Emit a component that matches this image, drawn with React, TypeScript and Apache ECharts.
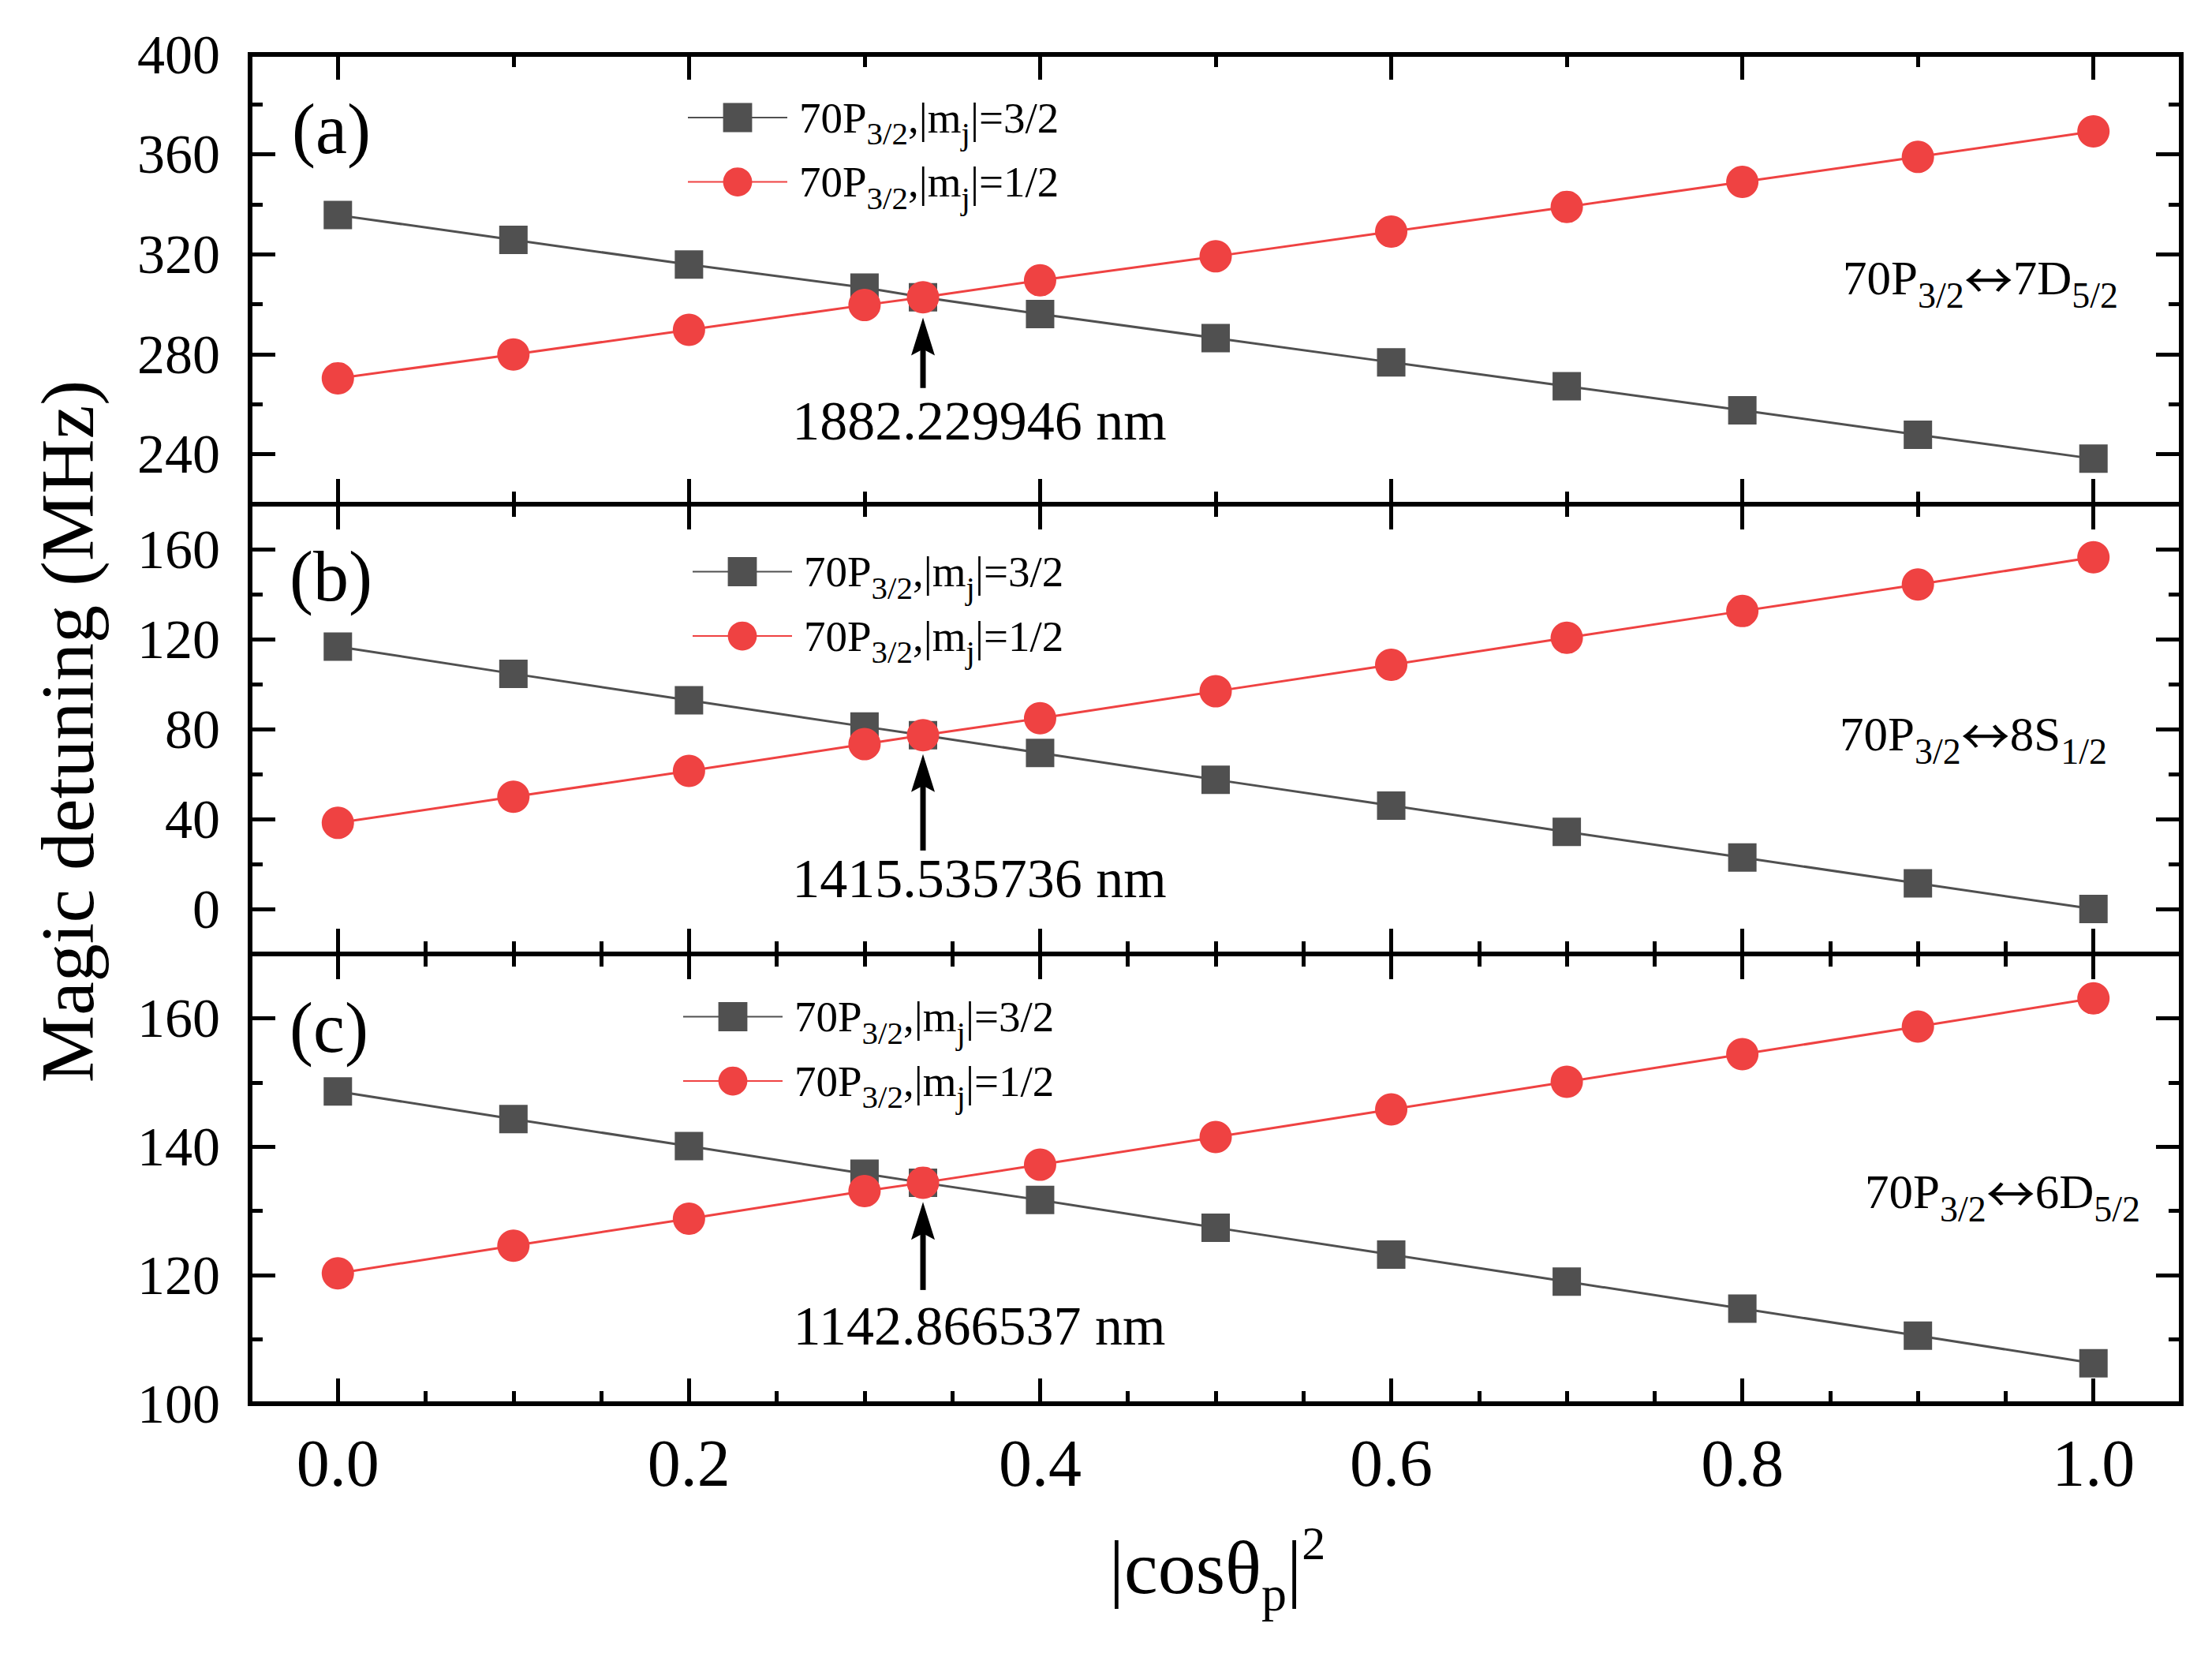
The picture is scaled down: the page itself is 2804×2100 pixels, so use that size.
import { useEffect, useRef } from "react";
import * as echarts from "echarts";

const FONT = "'Times New Roman', 'Liberation Serif', serif";

// |cos θp|^2 samples shared by the three panels (0.3333 is the magic crossing)
const cosSq = [0, 0.1, 0.2, 0.3, 0.3333, 0.4, 0.5, 0.6, 0.7, 0.8, 0.9, 1.0];

// (a) 70P3/2 <-> 7D5/2
const aMj32 = [335.7, 325.8, 315.9, 306.7, 302.8, 296.1, 286.5, 276.8, 267.2, 257.6, 247.8, 238.2];
const aMj12 = [270.4, 279.9, 289.8, 299.7, 302.8, 309.6, 319.2, 329.1, 339.0, 349.0, 359.0, 369.2];
// (b) 70P3/2 <-> 8S1/2
const bMj32 = [116.7, 104.6, 92.8, 81.1, 77.3, 69.4, 57.5, 46.0, 34.3, 22.9, 11.4, 0.0];
const bMj12 = [38.3, 49.9, 61.4, 73.3, 77.3, 84.8, 96.8, 108.6, 120.6, 132.5, 144.3, 156.4];
// (c) 70P3/2 <-> 6D5/2
const cMj32 = [148.6, 144.3, 140.1, 135.8, 134.4, 131.7, 127.4, 123.2, 119.0, 114.8, 110.6, 106.3];
const cMj12 = [120.3, 124.6, 128.8, 133.1, 134.4, 137.2, 141.5, 145.8, 150.1, 154.4, 158.7, 163.1];

// tick values
const xMajor = [0, 0.2, 0.4, 0.6, 0.8, 1.0];
const xMinorCoarse = [0.1, 0.3, 0.5, 0.7, 0.9];
const xMinorFine = [0.05, 0.1, 0.15, 0.25, 0.3, 0.35, 0.45, 0.5, 0.55, 0.65, 0.7, 0.75, 0.85, 0.9, 0.95];
const yMajorA = [240, 280, 320, 360, 400];
const yMinorA = [260, 300, 340, 380];
const yMajorB = [0, 40, 80, 120, 160];
const yMinorB = [20, 60, 100, 140];
const yMajorC = [100, 120, 140, 160];
const yMinorC = [110, 130, 150];

// texts
const mj32Name = "70P3/2,|mj|=3/2";
const mj12Name = "70P3/2,|mj|=1/2";
const legendRich: Record<string, string> = {
  [mj32Name]: "70P{sub|3/2},|m{sub|j}|=3/2",
  [mj12Name]: "70P{sub|3/2},|m{sub|j}|=1/2",
};
const transitions = ["70P{sub|3/2}{arr|↔}7D{sub|5/2}", "70P{sub|3/2}{arr|↔}8S{sub|1/2}", "70P{sub|3/2}{arr|↔}6D{sub|5/2}"];
const wavelengths = ["1882.229946 nm", "1415.535736 nm", "1142.866537 nm"];
const panelTags = ["(a)", "(b)", "(c)"];

// annotation arrows (data units) and wavelength label anchors
const arrowX = 0.3333;
const arrowTip = [294.7, 68.9, 131.4];
const arrowTail = [266.5, 26.0, 117.7];
const waveX = 0.3654;
const waveY = [253.2, 13.4, 112.1];

const SQ = "#505050";
const RED = "#ef4242";
const GRID_LEFT = 317;
const GRID_W = 2448;
const GRID_H = 570;

const panels = [
  { top: 69, yMin: 220, yMax: 400, yMajor: yMajorA, yMinor: yMinorA, mj32: aMj32, mj12: aMj12,
    xTopMinor: xMinorCoarse, xBottomMinor: xMinorCoarse, legendLeft: 871, legendTop: 108.5,
    tagX: 370, tagY: 163, transX: 2685, transY: 352 },
  { top: 639, yMin: -20, yMax: 180, yMajor: yMajorB, yMinor: yMinorB, mj32: bMj32, mj12: bMj12,
    xTopMinor: xMinorCoarse, xBottomMinor: xMinorFine, legendLeft: 877, legendTop: 684,
    tagX: 367, tagY: 730, transX: 2671, transY: 930 },
  { top: 1209, yMin: 100, yMax: 170, yMajor: yMajorC, yMinor: yMinorC, mj32: cMj32, mj12: cMj12,
    xTopMinor: xMinorFine, xBottomMinor: xMinorFine, legendLeft: 865, legendTop: 1248,
    tagX: 367, tagY: 1302, transX: 2713, transY: 1510 },
];

const axisBase = (gi: number, position: string, ticks: number[], len: number, line: boolean) => ({
  type: "value",
  gridIndex: gi,
  position,
  splitLine: { show: false },
  axisLine: { show: line, onZero: false, lineStyle: { color: "#000", width: 6, cap: "square" } },
  axisTick: { show: true, inside: true, length: len, customValues: ticks, lineStyle: { color: "#000", width: 5 } },
});

const App = () => {
  const ref = useRef<HTMLDivElement | null>(null);

  useEffect(() => {
    if (!ref.current) return;
    const chart = echarts.init(ref.current, null, { renderer: "svg" });

    const xAxes: any[] = [];
    const yAxes: any[] = [];
    panels.forEach((p, i) => {
      const xr = { min: -0.05, max: 1.05 };
      xAxes.push({
        ...axisBase(i, "bottom", xMajor, 32, true), ...xr,
        axisLabel: {
          show: i === 2, customValues: xMajor, margin: 33, fontSize: 84, fontFamily: FONT, color: "#000",
          formatter: (v: number) => v.toFixed(1),
        },
      });
      xAxes.push({ ...axisBase(i, "bottom", p.xBottomMinor, 16, false), ...xr, axisLabel: { show: false } });
      xAxes.push({ ...axisBase(i, "top", xMajor, 32, true), ...xr, axisLabel: { show: false } });
      xAxes.push({ ...axisBase(i, "top", p.xTopMinor, 16, false), ...xr, axisLabel: { show: false } });

      const yr = { min: p.yMin, max: p.yMax };
      yAxes.push({
        ...axisBase(i, "left", p.yMajor, 32, true), ...yr,
        axisLabel: { show: true, customValues: p.yMajor, margin: 38, fontSize: 70, fontFamily: FONT, color: "#000" },
      });
      yAxes.push({ ...axisBase(i, "left", p.yMinor, 16, false), ...yr, axisLabel: { show: false } });
      yAxes.push({ ...axisBase(i, "right", p.yMajor, 32, true), ...yr, axisLabel: { show: false } });
      yAxes.push({ ...axisBase(i, "right", p.yMinor, 16, false), ...yr, axisLabel: { show: false } });
    });

    const series: any[] = [];
    panels.forEach((p, i) => {
      series.push({
        type: "line",
        name: mj32Name,
        xAxisIndex: i * 4,
        yAxisIndex: i * 4,
        data: cosSq.map((x, k) => [x, p.mj32[k]]),
        symbol: "rect",
        symbolSize: 36,
        itemStyle: { color: SQ },
        lineStyle: { color: SQ, width: 3 },
        z: 3,
      });
      series.push({
        type: "line",
        name: mj12Name,
        xAxisIndex: i * 4,
        yAxisIndex: i * 4,
        data: cosSq.map((x, k) => [x, p.mj12[k]]),
        symbol: "circle",
        symbolSize: 41,
        itemStyle: { color: RED },
        lineStyle: { color: RED, width: 3 },
        z: 4,
        markPoint: {
          silent: true,
          data: [
            {
              coord: [waveX, waveY[i]],
              symbol: "rect",
              symbolSize: 1,
              itemStyle: { color: "rgba(0,0,0,0)" },
              label: {
                show: true, position: "inside", formatter: wavelengths[i],
                fontSize: 70, fontFamily: FONT, color: "#000",
              },
            },
          ],
        },
      });
    });

    const legends = panels.map((p) => ({
      orient: "vertical",
      left: p.legendLeft,
      top: p.legendTop,
      padding: 0,
      itemWidth: 126,
      itemHeight: 46,
      itemGap: 0.6,
      selectedMode: false,
      data: [mj32Name, mj12Name],
      formatter: (name: string) => legendRich[name],
      textStyle: {
        fontSize: 55, lineHeight: 56, fontFamily: FONT, color: "#000", padding: [0, 0, 0, 10],
        rich: { sub: { fontSize: 41, lineHeight: 20, padding: [40, 0, 0, 0], fontFamily: FONT, color: "#000" } },
      },
    }));

    const graphics: any[] = [
      {
        type: "text", x: 85, y: 927, rotation: Math.PI / 2,
        style: { text: "Magic detuning (MHz)", fontSize: 96, fontFamily: FONT, fill: "#000",
          textAlign: "center", textVerticalAlign: "middle" },
      },
      {
        type: "text", x: 1543, y: 1986,
        style: {
          text: "|cosθ{sub|p}|{sup|2}", fontSize: 96, fontFamily: FONT, fill: "#000",
          textAlign: "center", textVerticalAlign: "middle",
          rich: {
            sub: { fontSize: 64, fontFamily: FONT, fill: "#000", lineHeight: 20, padding: [67, 0, 0, 0] },
            sup: { fontSize: 60, fontFamily: FONT, fill: "#000", lineHeight: 20, padding: [0, 0, 60, 0] },
          },
        },
      },
    ];
    panels.forEach((p, i) => {
      graphics.push({
        type: "text", x: p.tagX, y: p.tagY,
        style: { text: panelTags[i], fontSize: 90, fontFamily: FONT, fill: "#000",
          textAlign: "left", textVerticalAlign: "middle" },
      });
      graphics.push({
        type: "text", x: p.transX, y: p.transY,
        style: {
          text: transitions[i], fontSize: 61, fontFamily: FONT, fill: "#000",
          textAlign: "right", textVerticalAlign: "middle",
          rich: {
            sub: { fontSize: 46, fontFamily: FONT, fill: "#000", lineHeight: 20, padding: [44, 0, 0, 0] },
            arr: { fontSize: 62, fontFamily: "'Noto Sans CJK JP', 'DejaVu Sans'", fill: "#000", lineHeight: 20 },
          },
        },
      });
    });

    chart.setOption({
      animation: false,
      backgroundColor: "#fff",
      textStyle: { fontFamily: FONT },
      grid: panels.map((p) => ({ left: GRID_LEFT, top: p.top, width: GRID_W, height: GRID_H, outerBoundsMode: "none" })),
      xAxis: xAxes,
      yAxis: yAxes,
      legend: legends,
      series,
    });

    // arrows pointing at the crossing, placed through the panel's own axes
    panels.forEach((_, i) => {
      const finder = { xAxisIndex: i * 4, yAxisIndex: i * 4 };
      const tip = chart.convertToPixel(finder, [arrowX, arrowTip[i]]) as number[];
      const tail = chart.convertToPixel(finder, [arrowX, arrowTail[i]]) as number[];
      const [tx, ty] = tip;
      graphics.push({
        type: "line",
        shape: { x1: tx, y1: ty + 34, x2: tx, y2: tail[1] },
        style: { stroke: "#000", lineWidth: 7 },
        z: 10,
      });
      graphics.push({
        type: "polygon",
        shape: { points: [[tx, ty], [tx + 15, ty + 48], [tx, ty + 40], [tx - 15, ty + 48]] },
        style: { fill: "#000" },
        z: 10,
      });
    });

    chart.setOption({ graphic: { elements: graphics } });

    return () => chart.dispose();
  }, []);

  return <div ref={ref} style={{ position: "absolute", left: 0, top: 0, width: 2804, height: 2100 }} />;
};

export default App;
